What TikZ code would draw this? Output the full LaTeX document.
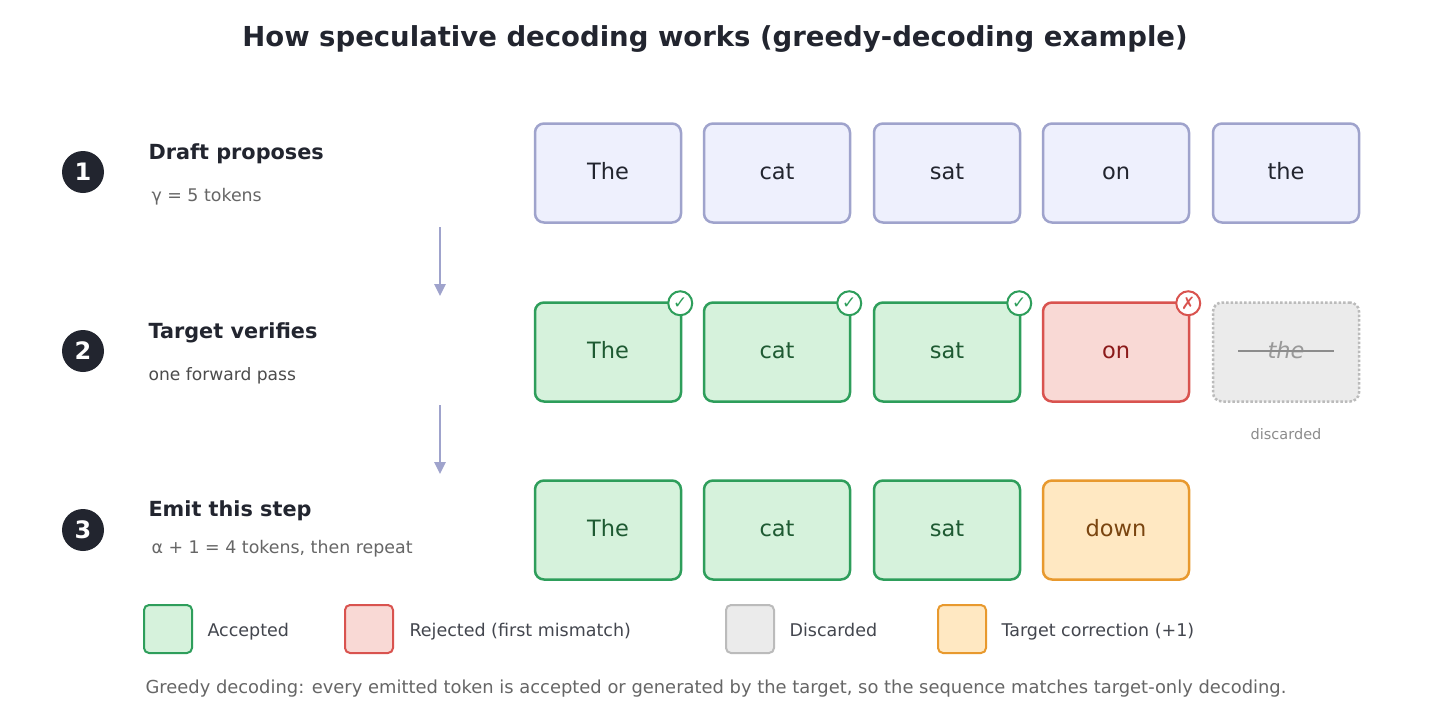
\documentclass[tikz,border=0pt]{standalone}
\usepackage{fontspec}
\setmainfont{DejaVu Sans}
\usetikzlibrary{arrows.meta}
\definecolor{ink}{HTML}{22252F}
\definecolor{draftfill}{HTML}{EEF0FD}\definecolor{draftline}{HTML}{9FA3CC}
\definecolor{accfill}{HTML}{D6F2DC}\definecolor{accline}{HTML}{2E9E5B}\definecolor{acctext}{HTML}{1E5A32}
\definecolor{rejfill}{HTML}{F9D9D5}\definecolor{rejline}{HTML}{D9534F}\definecolor{rejtext}{HTML}{8B1A1A}
\definecolor{disfill}{HTML}{EBEBEB}\definecolor{disline}{HTML}{BBBBBB}
\definecolor{corfill}{HTML}{FFE8C2}\definecolor{corline}{HTML}{E8992E}\definecolor{cortext}{HTML}{7A4510}
\tikzset{
  tok/.style={draw, line width=2.5pt, rounded corners=9pt, minimum width=146pt, minimum height=99pt,
    text height=16pt, text depth=4pt, font=\fontsize{22.5}{26}\selectfont},
  draft/.style={tok, fill=draftfill, draw=draftline, text=ink},
  acc/.style={tok, fill=accfill, draw=accline, text=acctext},
  rej/.style={tok, fill=rejfill, draw=rejline, text=rejtext},
  dis/.style={tok, fill=disfill, draw=disline, dotted, text=gray!80},
  cor/.style={tok, fill=corfill, draw=corline, text=cortext},
  badge/.style={circle, fill=white, draw, line width=2pt, inner sep=0pt, minimum size=24pt, font=\fontsize{17}{17}\selectfont},
  stepnum/.style={circle, fill=ink, text=white, inner sep=0pt, minimum size=42pt, font=\bfseries\fontsize{24}{24}\selectfont},
  head/.style={anchor=west, text=ink, font=\bfseries\fontsize{20.8}{24}\selectfont},
  sub/.style={anchor=west, text=black!60, font=\fontsize{17.4}{20}\selectfont},
  leg/.style={draw, line width=2pt, rounded corners=5pt, minimum size=48pt},
  legtext/.style={anchor=west, text=ink!85, text height=13pt, text depth=4pt, font=\fontsize{17.5}{22}\selectfont},
  flow/.style={draftline, line width=2.5pt, -{Triangle[length=12pt,width=11pt]}}
}
\begin{document}
\begin{tikzpicture}[x=1pt,y=-1pt]
    \useasboundingbox[fill=white] (0,0) rectangle (1431,715);

    \node[text=ink, font=\bfseries\fontsize{27.5}{32}\selectfont] (title) at (715,39) {How speculative decoding works (greedy-decoding example)};

    % Steps
    \node[stepnum] (s1) at (83,172) {1};
    \node[stepnum] (s2) at (83,351) {2};
    \node[stepnum] (s3) at (83,530) {3};
    \node[head] (h1) at (145,154) {Draft proposes};
    \node[head] (h2) at (145,333) {Target verifies};
    \node[head] (h3) at (145,511) {Emit this step};
    \node[sub] (t1) at (148,197) {γ = 5 tokens};
    \node[sub, text=black!70, font=\fontsize{17.1}{20}\selectfont] (t2) at (145,376) {one forward pass};
    \node[sub] (t3) at (148,549) {α + 1 = 4 tokens, then repeat};

    % Arrows
    \coordinate (a1) at (440,227); \coordinate (b1) at (440,296);
    \coordinate (a2) at (440,405); \coordinate (b2) at (440,474);
    \draw[flow] (a1) -- (b1);
    \draw[flow] (a2) -- (b2);

    % Row 1
    \node[draft] (d1) at (608,173) {The};
    \node[draft] (d2) at (777,173) {cat};
    \node[draft] (d3) at (947,173) {sat};
    \node[draft] (d4) at (1116,173) {on};
    \node[draft] (d5) at (1286,173) {the};

    % Row 2
    \node[acc] (v1) at (608,352) {The};
    \node[acc] (v2) at (777,352) {cat};
    \node[acc] (v3) at (947,352) {sat};
    \node[rej] (v4) at (1116,352) {on};
    \node[dis] (v5) at (1286,352) {\itshape the};
    \draw[gray!90, line width=2.5pt] (1238,351) -- (1334,351);
    \foreach \n in {v1,v2,v3}
        \node[badge, draw=accline, text=accline] at ([shift={(-2,2)}]\n.north east) {✓};
    \node[badge, draw=rejline, text=rejline] (x4) at ([shift={(-2,2)}]v4.north east) {✗};
    \node[text=black!45, font=\fontsize{14.5}{16}\selectfont] (dl) at (1286,434) {discarded};

    % Row 3
    \node[acc] (e1) at (608,530) {The};
    \node[acc] (e2) at (777,530) {cat};
    \node[acc] (e3) at (947,530) {sat};
    \node[cor] (e4) at (1116,530) {down};

    % Legend
    \node[leg, fill=accfill, draw=accline] (l1) at (168,629) {};
    \node[leg, fill=rejfill, draw=rejline] (l2) at (369,629) {};
    \node[leg, fill=disfill, draw=disline] (l3) at (750,629) {};
    \node[leg, fill=corfill, draw=corline] (l4) at (962,629) {};
    \node[legtext] at (204,632) {Accepted};
    \node[legtext] at (406,632) {Rejected (first mismatch)};
    \node[legtext] at (786,632) {Discarded};
    \node[legtext] at (998,632) {Target correction (+1)};

    \node[anchor=west, text=black!60, font=\fontsize{17.9}{20}\selectfont] (foot) at (142,689) {Greedy decoding: every emitted token is accepted or generated by the target, so the sequence matches target-only decoding.};
\end{tikzpicture}
\end{document}
